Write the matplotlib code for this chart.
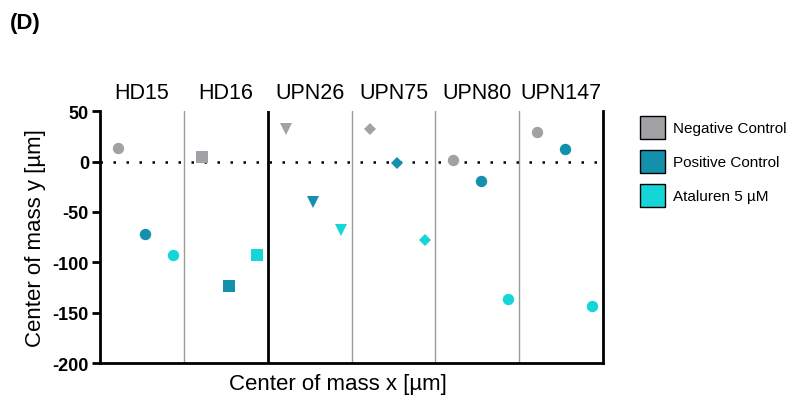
import matplotlib
matplotlib.use("Agg")
import matplotlib.pyplot as plt
from matplotlib.patches import Patch

plt.rcParams['font.family'] = ['Liberation Sans', 'DejaVu Sans']

groups = ["HD15", "HD16", "UPN26", "UPN75", "UPN80", "UPN147"]
neg_ctrl = [13.5, 5, 32, 32, 2, 29]
pos_ctrl = [-72, -124, -40, -1, -19, 13]
ataluren = [-93, -93, -68, -78, -136, -143]
markers = ["o", "s", "v", "D", "o", "o"]
series_names = ["Negative Control", "Positive Control", "Ataluren 5 µM"]
colors = ["#a2a2a6", "#1390ac", "#14d6d8"]
yticks = [50, 0, -50, -100, -150, -200]

fig = plt.figure(figsize=(8, 4.06), dpi=100)
ax = fig.add_axes([0.125, 0.1034, 0.629, 0.62])

offsets = [0.215, 0.54, 0.87]
sizes = {"o": 8.2, "s": 8.0, "v": 8.6, "D": 6.2}
for i, g in enumerate(groups):
    for j, vals in enumerate([neg_ctrl, pos_ctrl, ataluren]):
        m = markers[i]
        ax.plot(i + offsets[j], vals[i], marker=m, color=colors[j], markersize=sizes[m],
                linestyle='none', markeredgewidth=0, zorder=3)

ax.axhline(0, color='black', linestyle=(0, (1, 4.2)), linewidth=1.8, zorder=2)
for k in range(1, 6):
    if k == 2:
        ax.axvline(k, color='black', linewidth=2, zorder=1)
    else:
        ax.axvline(k, color='#9a9a9a', linewidth=1, zorder=1)

ax.set_xlim(0, 6)
ax.set_ylim(-200, 50)
ax.set_xticks([])
ax.set_yticks(yticks)
ax.set_yticklabels([str(t) for t in yticks], fontweight='bold', fontsize=13)
ax.tick_params(axis='y', direction='out', length=6, width=2, pad=2)
for s in ['left', 'bottom', 'right']:
    ax.spines[s].set_linewidth(2)
    ax.spines[s].set_color('black')
ax.spines['top'].set_visible(False)

for i, g in enumerate(groups):
    ax.text(i + 0.5, 1.075, g, transform=ax.get_xaxis_transform(), ha='center', va='center',
            fontsize=15.5)

ax.set_ylabel("Center of mass y [µm]", fontsize=16, labelpad=5)
fig.text(338 / 800, 1 - 385 / 406, "Center of mass x [µm]", ha='center', va='center', fontsize=16)
fig.text(10 / 800, 1 - 23 / 406, "(D)", ha='left', va='center', fontsize=16, fontweight='bold')

handles = [Patch(facecolor=c, edgecolor='black', linewidth=1) for c in colors]
fig.legend(handles, series_names, loc='upper left', bbox_to_anchor=(634 / 800, 1 - 111 / 406),
           frameon=False, fontsize=11, handlelength=1.6, handleheight=1.9,
           labelspacing=0.75, handletextpad=0.55, borderaxespad=0)

fig.savefig("out.png", dpi=100)
